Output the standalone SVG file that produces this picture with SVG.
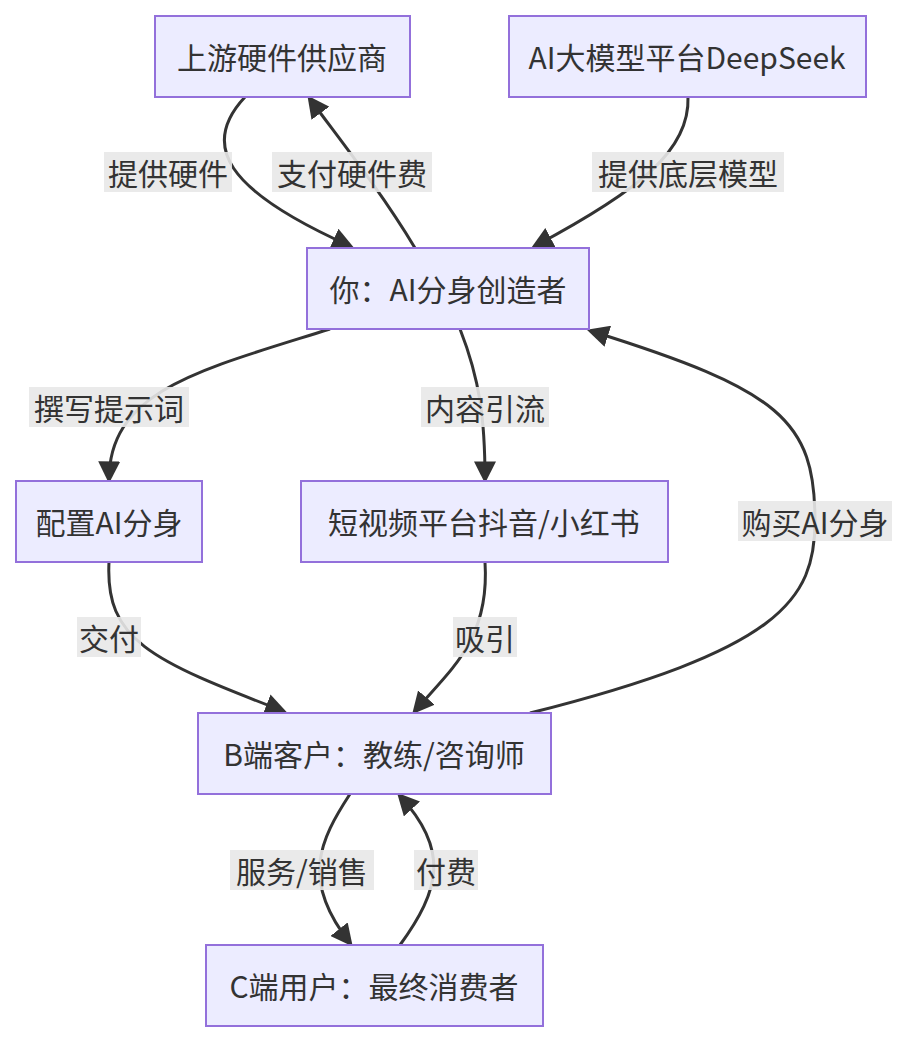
<svg xmlns="http://www.w3.org/2000/svg" width="912" height="1044" viewBox="0 0 912 1044">
<style>
.n rect{fill:#ECECFF;stroke:#9370DB;stroke-width:2}
text{font-family:"Noto Sans CJK SC","Liberation Sans",sans-serif;font-size:30px;fill:#333;text-anchor:middle;dominant-baseline:central}
.e path{fill:none;stroke:#333;stroke-width:3;marker-end:url(#a)}
.l rect{fill:#e8e8e8;opacity:0.9}
</style>
<defs><marker id="a" viewBox="0 0 10 10" refX="8" refY="5" markerWidth="22" markerHeight="22" markerUnits="userSpaceOnUse" orient="auto"><path d="M0,0L10,5L0,10z" fill="#333"/></marker></defs>
<g class="e">
<path d="M245,97 C200,145 225,190 350,246"/>
<path d="M415,248 C380,190 340,140 310,99"/>
<path d="M688,97 C690,150 640,190 535,246"/>
<path d="M330,329 C200,370 110,390 109,479"/>
<path d="M460,329 C480,380 485,420 485,479"/>
<path d="M530,713 C780,650 815,600 815,521 C815,420 780,390 591,331"/>
<path d="M109,562 C105,640 150,660 283,711"/>
<path d="M485,562 C490,640 450,670 415,711"/>
<path d="M350,794 C320,840 300,880 350,943"/>
<path d="M400,945 C440,890 450,850 400,796"/>
</g>
<g class="l">
<rect x="104" y="152" width="128" height="40"/><text x="168" y="172">提供硬件</text>
<rect x="272" y="152" width="160" height="40"/><text x="352" y="172">支付硬件费</text>
<rect x="592" y="152" width="192" height="40"/><text x="688" y="172">提供底层模型</text>
<rect x="29" y="387" width="160" height="40"/><text x="109" y="407">撰写提示词</text>
<rect x="421" y="387" width="128" height="40"/><text x="485" y="407">内容引流</text>
<rect x="738" y="501" width="154" height="40"/><text x="815" y="521">购买AI分身</text>
<rect x="77" y="617" width="64" height="40"/><text x="109" y="637">交付</text>
<rect x="453" y="617" width="64" height="40"/><text x="485" y="637">吸引</text>
<rect x="230" y="850" width="144" height="40"/><text x="302" y="870">服务/销售</text>
<rect x="414" y="850" width="64" height="40"/><text x="446" y="870">付费</text>
</g>
<g id="n1" class="n"><rect x="155" y="16" width="255" height="81"/><text x="282" y="56">上游硬件供应商</text></g>
<g id="n2" class="n"><rect x="509" y="16" width="357" height="81"/><text x="687" y="56">AI大模型平台DeepSeek</text></g>
<g id="n3" class="n"><rect x="307" y="248" width="282" height="81"/><text x="448" y="288">你：AI分身创造者</text></g>
<g id="n4" class="n"><rect x="16" y="481" width="186" height="81"/><text x="109" y="521">配置AI分身</text></g>
<g id="n5" class="n"><rect x="301" y="481" width="367" height="81"/><text x="484" y="521">短视频平台抖音/小红书</text></g>
<g id="n6" class="n"><rect x="198" y="713" width="353" height="81"/><text x="374" y="753">B端客户：教练/咨询师</text></g>
<g id="n7" class="n"><rect x="206" y="945" width="337" height="81"/><text x="374" y="985">C端用户：最终消费者</text></g>
</svg>
